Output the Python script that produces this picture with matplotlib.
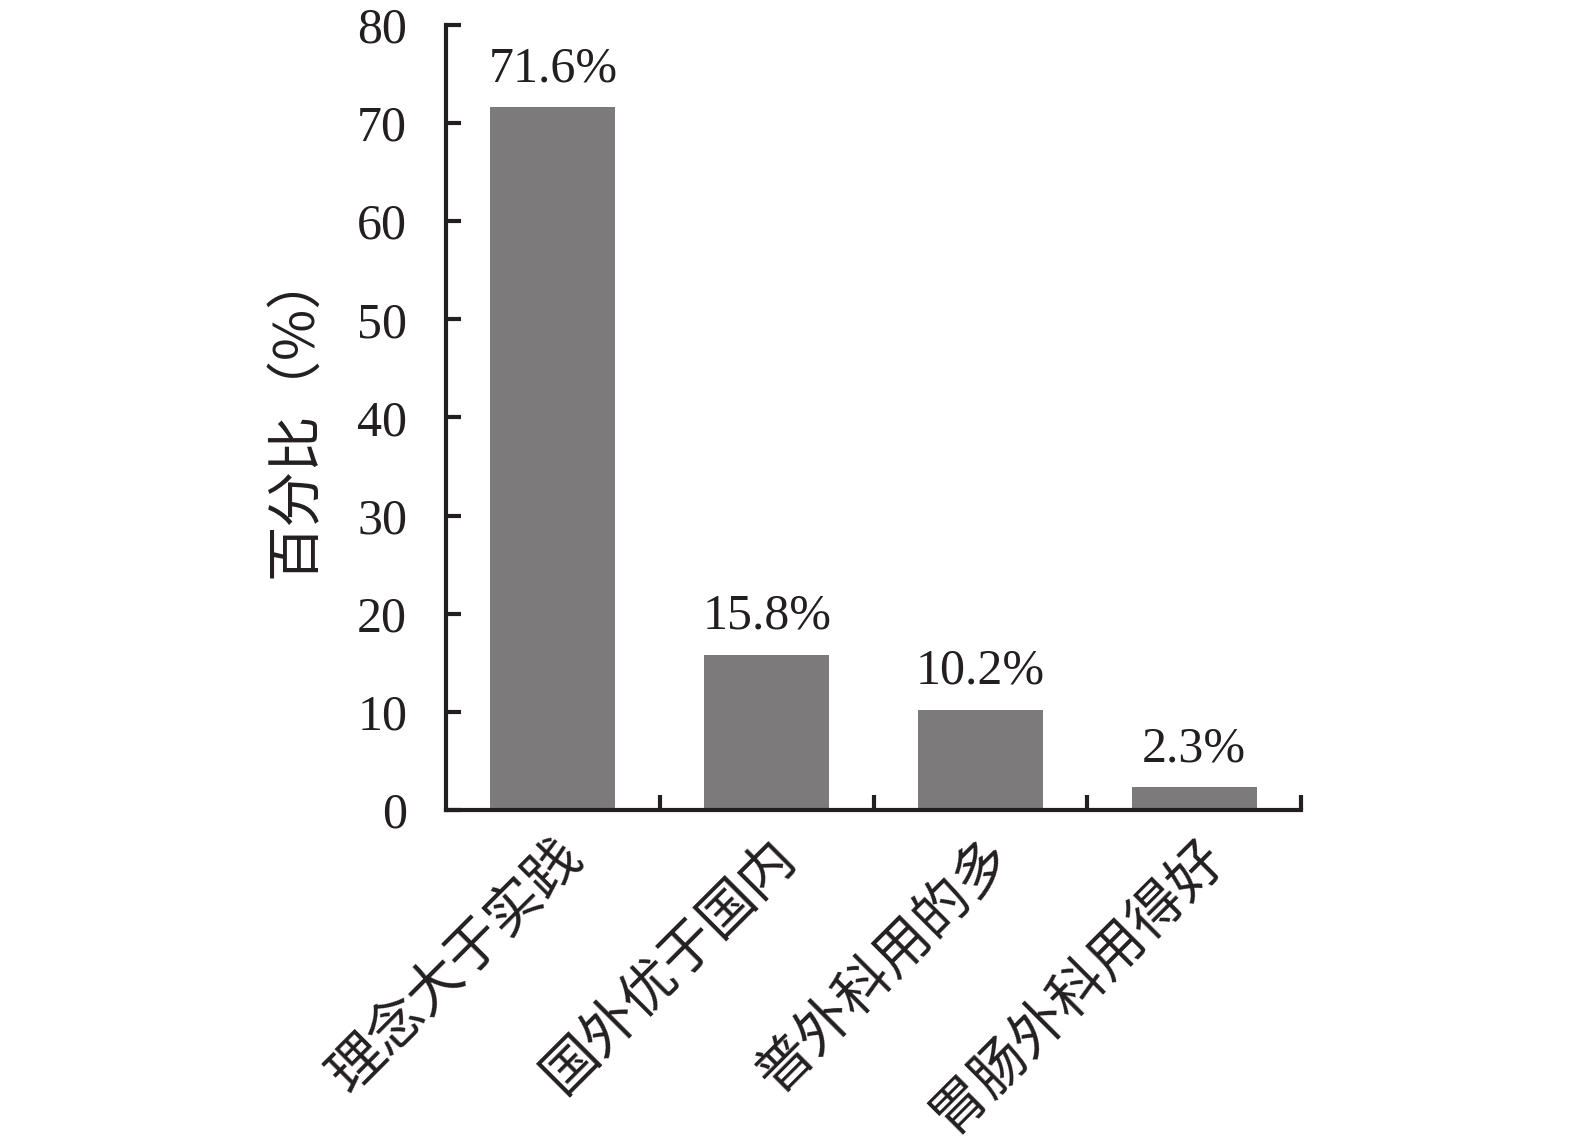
import numpy as np
import matplotlib
matplotlib.use("Agg")
import matplotlib.pyplot as plt
from matplotlib.ticker import FixedLocator

# Data
categories = ["理念大于实践", "国外优于国内", "普外科用的多", "胃肠外科用得好"]
values = [71.6, 15.8, 10.2, 2.3]
value_labels = ["71.6%", "15.8%", "10.2%", "2.3%"]
y_ticks = [0, 10, 20, 30, 40, 50, 60, 70, 80]

# Style
bar_color = "#7c7a7b"
ink = "#231f20"
num_font = ["Liberation Serif", "DejaVu Serif"]
cjk_font = ["Noto Sans CJK SC", "DejaVu Sans"]

fig = plt.figure(figsize=(15.75, 11.46), dpi=100)
ax = fig.add_axes([0.2832, 0.2932, 0.5429, 0.685])

x = np.arange(len(categories))
ax.bar(x, values, width=0.585, color=bar_color, zorder=2)

for xi, v, lab in zip(x, values, value_labels):
    ax.annotate(lab, (xi, v), xytext=(0, 19), textcoords="offset points",
                ha="center", va="baseline", fontsize=36, color=ink,
                family=num_font)

ax.set_xlim(-0.5, len(categories) - 0.5)
ax.set_ylim(0, 80)

for side in ["top", "right"]:
    ax.spines[side].set_visible(False)
for side in ["left", "bottom"]:
    ax.spines[side].set_linewidth(3)
    ax.spines[side].set_color(ink)

# y axis
ax.yaxis.set_major_locator(FixedLocator(y_ticks))
ax.set_yticklabels([str(t) for t in y_ticks], family=num_font, fontsize=36, color=ink)
ax.tick_params(axis="y", direction="in", length=11, width=3, color=ink, pad=28)

# x axis: labels at bar centres, ticks at the boundaries between bars
ax.set_xticks(x)
ax.set_xticklabels(categories, rotation=45, ha="right", va="top",
                   rotation_mode="anchor", family=cjk_font, fontsize=40, color=ink)
ax.tick_params(axis="x", which="major", length=0, pad=13)
ax.xaxis.set_minor_locator(FixedLocator(np.arange(len(categories)) + 0.5))
ax.tick_params(axis="x", which="minor", direction="in", length=11, width=3, color=ink)

ax.set_ylabel("百分比（%）", family=cjk_font, fontsize=40, color=ink)
ax.yaxis.set_label_coords(-0.142, 0.505)

fig.savefig("out.png", dpi=100)
